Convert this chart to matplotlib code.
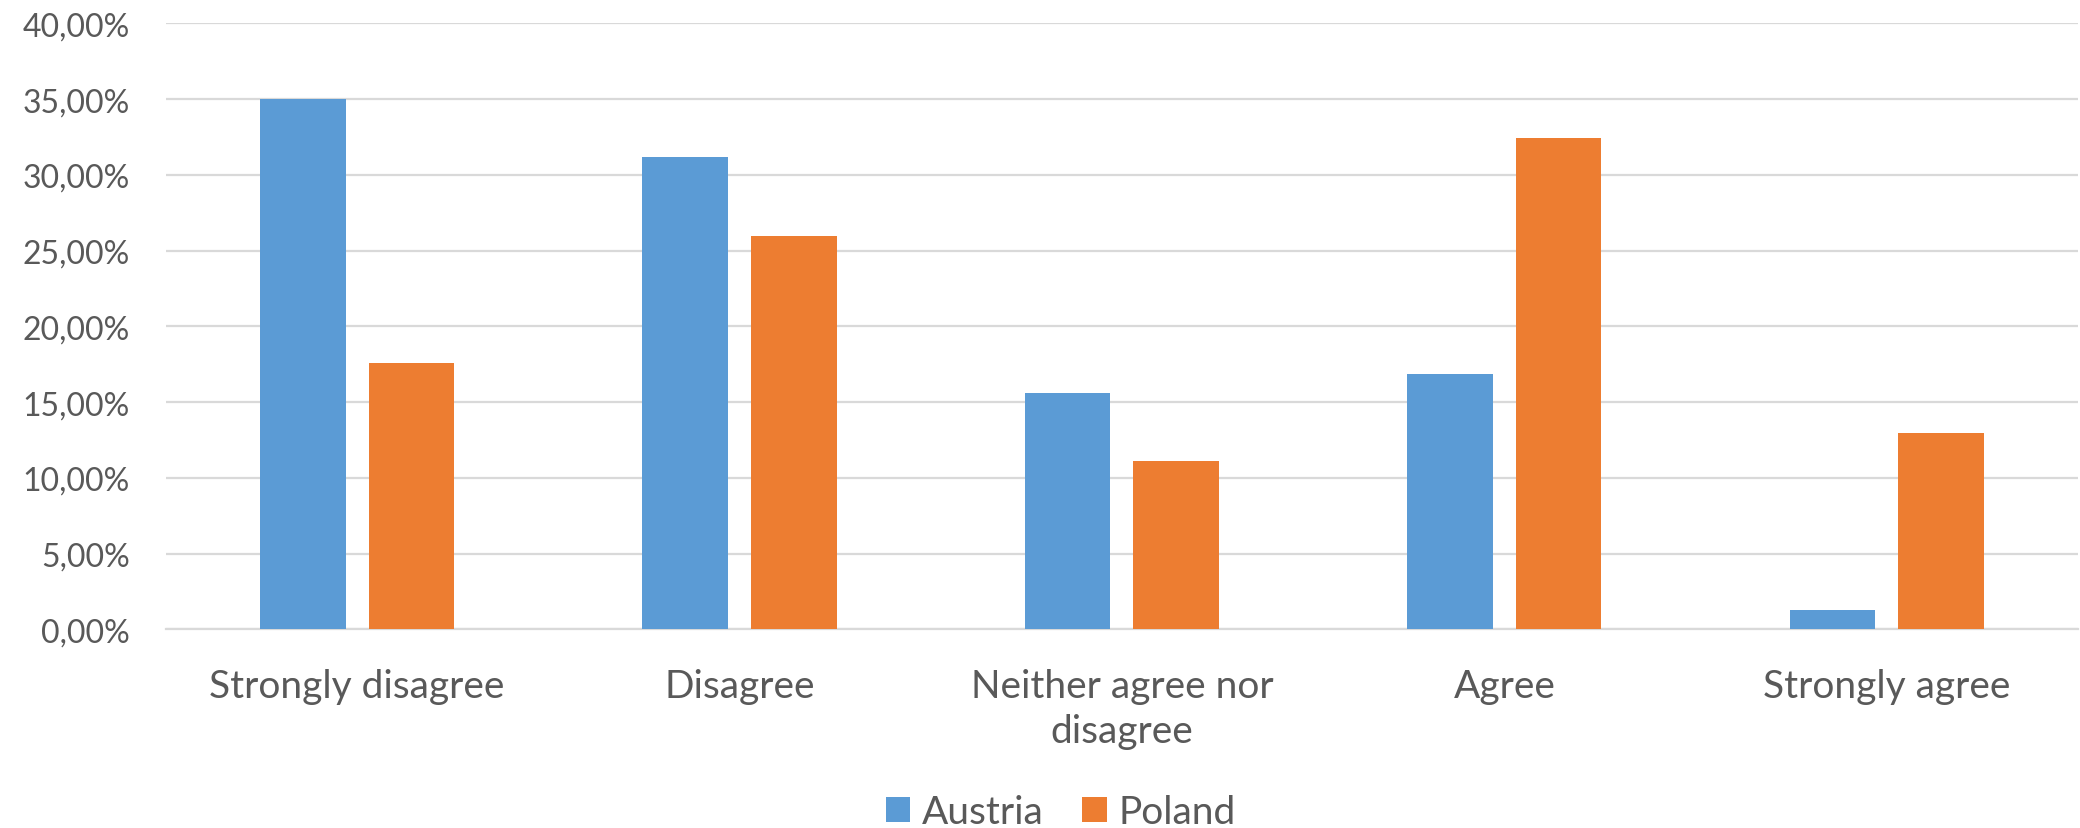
import numpy as np
import matplotlib
matplotlib.use("Agg")
from matplotlib import pyplot as plt
from matplotlib.ticker import FuncFormatter

# survey answers, share of respondents (%)
categories = ["Strongly disagree", "Disagree", "Neither agree nor\ndisagree", "Agree", "Strongly agree"]
austria = [35.00, 31.19, 15.60, 16.88, 1.29]
poland = [17.57, 25.94, 11.11, 32.44, 12.98]
series_names = ["Austria", "Poland"]

blue = "#5B9BD5"
orange = "#ED7D31"
text_grey = "#595959"
grid_grey = "#D9D9D9"

plt.rcParams['font.family'] = ['Lato', 'DejaVu Sans']

fig = plt.figure(figsize=(20.8, 8.29), dpi=100)
ax = fig.add_axes([0.0798, 0.2395, 0.9192, 0.7312])

x = np.arange(len(categories))
w = 0.224
off = 0.142
ax.bar(x - off, austria, width=w, color=blue, label=series_names[0], zorder=3)
ax.bar(x + off, poland, width=w, color=orange, label=series_names[1], zorder=3)

ax.set_xlim(-0.5, len(categories) - 0.5)
ax.set_ylim(0, 40)
ax.set_yticks(np.arange(0, 41, 5))
ax.yaxis.set_major_formatter(FuncFormatter(lambda v, p: f"{v:.2f}%".replace(".", ",")))
ax.yaxis.grid(True, color=grid_grey, linewidth=1.6, zorder=0)

ax.set_xticks(x)
ax.set_xticklabels(categories, fontsize=28, color=text_grey, linespacing=1.3, va="top")
ax.tick_params(axis="x", length=0, pad=28)
ax.tick_params(axis="y", length=0, pad=26, labelsize=23, labelcolor=text_grey)

for side in ["top", "right", "left"]:
    ax.spines[side].set_visible(False)
ax.spines["bottom"].set_color(grid_grey)
ax.spines["bottom"].set_linewidth(1.6)

fig.legend(loc="center", bbox_to_anchor=(0.51, 0.019), ncol=2, frameon=False,
           fontsize=28, labelcolor=text_grey, handlelength=0.62, handleheight=0.62,
           handletextpad=0.3, columnspacing=1.0)

fig.savefig("out.png", dpi=100)
